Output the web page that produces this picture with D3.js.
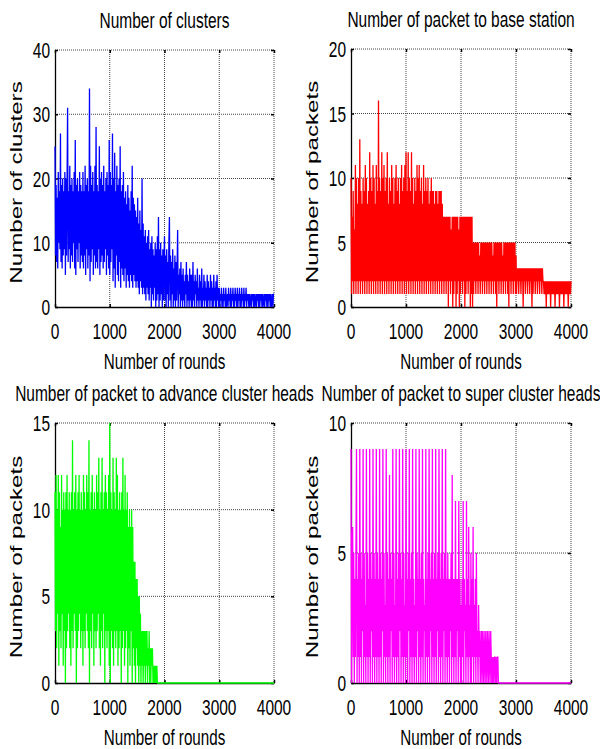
<!DOCTYPE html>
<html lang="en">
<head>
<meta charset="UTF-8"/>
<title>Clusters and packets per round</title>
<script src="https://d3js.org/d3.v7.min.js"></script>
<style>
  body { margin: 0; background: #fff; }
  svg text { font-family: "Liberation Sans", Arial, sans-serif; fill: #000; }
</style>
</head>
<body>
<script>

var w = 600;
var h = 749;

// one sample every 10 rounds, 0..4000 (each row below = 500 rounds)
var step = 10;
var rounds = d3.range(0, 4001, step);
var xTicks = [0, 1000, 2000, 3000, 4000];

// number of clusters
var clusters = [
  25,8,19,7,17,6,21,10,18,9,27,7,19,6,20,8,18,9,21,5,20,8,19,31,7,18,9,22,6,19,8,20,7,18,10,21,6,26,5,19,9,20,7,18,10,21,6,19,8,18,
  7,21,6,18,8,22,5,19,9,20,6,18,8,34,4,22,7,19,9,21,5,18,8,22,6,28,7,19,6,18,9,25,5,20,7,21,8,19,6,22,7,18,9,20,5,21,8,19,6,26,
  5,21,7,19,9,27,4,20,6,24,3,18,8,22,5,19,4,20,7,25,3,18,6,19,5,21,4,17,6,18,3,16,5,19,4,17,3,15,5,18,4,22,3,17,5,16,4,15,3,14,
  4,17,3,13,2,15,4,12,3,20,2,13,3,11,2,12,1,10,3,11,2,12,1,9,3,10,0,11,2,9,1,8,3,10,0,9,1,11,2,14,0,9,1,10,2,8,0,9,1,7,
  11,1,8,0,9,2,7,0,10,14,1,8,0,7,2,9,0,6,1,8,0,7,1,6,12,0,5,2,6,0,7,1,5,0,6,1,4,0,5,2,7,0,5,1,4,0,6,1,5,0,
  5,0,7,1,4,0,5,2,4,0,6,1,3,0,5,1,4,0,6,0,3,1,5,0,4,1,3,0,5,0,4,1,3,0,5,1,4,0,3,0,5,1,3,0,4,0,5,1,3,0,
  3,0,2,1,3,0,2,0,3,1,2,0,3,0,1,2,0,3,1,2,0,3,0,2,1,3,0,2,0,3,1,2,0,3,0,2,1,3,0,2,0,3,1,2,0,3,0,2,1,3,
  0,2,1,2,0,2,0,1,2,0,2,1,2,0,2,0,1,2,0,2,1,2,0,2,0,2,1,2,0,2,0,1,2,0,2,1,2,0,2,0,2,1,2,0,2,0,1,2,0,2,
  2
];

// packets to base station
var packetsBS = [
  10,1,7,2,9,1,6,2,11,1,10,2,8,1,10,2,13,1,9,2,8,1,10,2,9,1,11,2,10,1,8,2,9,1,12,2,10,1,9,2,11,1,10,2,8,1,11,2,9,1,
  16,2,10,1,9,2,12,1,10,2,11,1,9,2,10,1,12,2,8,1,10,2,9,1,11,2,10,1,8,2,10,1,11,2,9,1,10,2,8,1,10,2,11,1,9,2,10,1,11,2,
  12,1,9,2,12,1,10,2,9,1,12,2,10,1,8,2,10,1,9,2,11,1,10,2,11,1,9,2,10,1,8,2,11,1,9,2,10,1,9,2,10,1,8,2,9,1,10,2,9,1,
  9,2,8,1,9,2,9,1,8,2,9,1,9,2,9,1,8,2,7,1,7,2,7,1,7,2,7,0,7,2,7,1,6,2,7,0,7,1,7,2,7,0,7,1,7,2,6,0,7,1,
  7,2,7,1,7,2,7,0,7,1,7,2,7,1,7,2,7,0,7,1,7,0,5,1,5,2,5,1,5,2,5,1,5,2,4,1,5,2,5,1,5,2,5,1,5,2,5,1,5,2,
  5,1,5,2,5,1,5,2,4,1,5,2,5,1,5,0,5,2,5,1,5,2,5,1,5,2,4,1,5,2,5,1,5,2,5,1,5,0,5,2,5,1,5,2,5,1,5,2,5,1,
  4,1,3,2,3,1,3,2,3,1,3,2,3,0,3,2,3,1,3,2,3,1,3,2,3,1,3,2,3,0,3,1,3,2,3,1,3,2,3,1,3,2,3,1,3,2,3,1,3,2,
  2,1,2,1,2,0,2,1,2,1,2,1,2,0,2,1,2,1,2,1,2,0,2,1,2,1,2,1,2,0,2,1,2,1,2,1,2,0,2,1,2,1,2,1,2,0,2,1,2,1,
  2
];

// packets to advance cluster heads
var packetsACH = [
  11,3,12,2,10,4,12,1,11,3,9,2,12,4,10,1,11,3,10,0,11,2,12,3,10,4,11,2,10,1,11,3,14,2,10,4,11,3,12,0,10,2,11,3,12,4,10,2,11,3,
  10,1,12,3,11,2,10,4,12,3,11,2,14,0,10,3,11,2,12,4,10,1,11,3,10,2,12,3,11,4,13,2,10,1,11,3,13,2,10,4,11,0,12,3,11,2,10,3,12,1,
  15,0,11,3,10,2,13,1,11,3,10,2,13,3,12,1,10,2,11,3,10,0,11,2,13,3,10,1,12,2,10,3,11,0,9,2,10,1,9,3,10,0,9,2,7,1,7,0,6,2,
  6,1,5,0,5,1,4,0,3,1,3,0,3,1,3,0,3,1,3,0,2,1,3,0,2,0,2,1,2,0,1,0,1,0,1,0,1,0,0,0,0,0,0,0,0,0,0,0,0,0,
  0,0,0,0,0,0,0,0,0,0,0,0,0,0,0,0,0,0,0,0,0,0,0,0,0,0,0,0,0,0,0,0,0,0,0,0,0,0,0,0,0,0,0,0,0,0,0,0,0,0,
  0,0,0,0,0,0,0,0,0,0,0,0,0,0,0,0,0,0,0,0,0,0,0,0,0,0,0,0,0,0,0,0,0,0,0,0,0,0,0,0,0,0,0,0,0,0,0,0,0,0,
  0,0,0,0,0,0,0,0,0,0,0,0,0,0,0,0,0,0,0,0,0,0,0,0,0,0,0,0,0,0,0,0,0,0,0,0,0,0,0,0,0,0,0,0,0,0,0,0,0,0,
  0,0,0,0,0,0,0,0,0,0,0,0,0,0,0,0,0,0,0,0,0,0,0,0,0,0,0,0,0,0,0,0,0,0,0,0,0,0,0,0,0,0,0,0,0,0,0,0,0,0,
  0
];

// packets to super cluster heads
var packetsSCH = [
  9,0,5,6,1,5,0,4,1,5,9,0,4,1,5,0,9,1,5,0,4,2,9,0,5,1,3,0,9,1,5,0,4,1,9,0,5,2,4,0,9,1,5,0,4,1,9,0,5,1,
  4,0,9,1,5,0,4,2,9,0,5,1,3,0,9,1,5,0,4,1,8,0,5,2,4,0,9,1,5,0,3,1,9,0,4,1,5,0,9,2,5,0,4,1,9,0,5,1,3,0,
  9,1,4,0,5,2,9,0,4,1,5,0,9,1,4,0,3,1,9,0,5,2,4,0,9,1,4,0,5,1,9,0,4,2,3,0,9,1,4,0,5,1,9,0,4,2,5,0,9,1,
  4,0,5,1,9,0,4,2,5,0,9,1,4,0,5,1,9,0,4,2,5,0,9,1,4,0,5,1,4,0,4,2,5,0,8,1,4,0,4,1,7,0,4,2,4,0,7,1,4,0,
  3,0,4,1,7,0,4,2,3,0,7,1,4,0,6,1,3,0,5,0,4,1,6,0,3,1,4,0,5,1,2,0,3,1,2,0,1,2,0,2,1,0,2,1,0,2,1,0,2,1,
  0,2,1,0,2,1,0,1,0,1,0,1,1,0,1,0,1,1,0,0,0,0,0,0,0,0,0,0,0,0,0,0,0,0,0,0,0,0,0,0,0,0,0,0,0,0,0,0,0,0,
  0,0,0,0,0,0,0,0,0,0,0,0,0,0,0,0,0,0,0,0,0,0,0,0,0,0,0,0,0,0,0,0,0,0,0,0,0,0,0,0,0,0,0,0,0,0,0,0,0,0,
  0,0,0,0,0,0,0,0,0,0,0,0,0,0,0,0,0,0,0,0,0,0,0,0,0,0,0,0,0,0,0,0,0,0,0,0,0,0,0,0,0,0,0,0,0,0,0,0,0,0,
  0
];

var clusterTicks = [0, 10, 20, 30, 40];
var bsTicks = [0, 5, 10, 15, 20];
var achTicks = [0, 5, 10, 15];
var schTicks = [0, 5, 10];

var panels = [
  {title: "Number of clusters", ylabel: "Number of clusters", values: clusters, yTicks: clusterTicks,
   color: "#0000ff", left: 55, right: 274, top: 50, bottom: 307},
  {title: "Number of packet to base station", ylabel: "Number of packets", values: packetsBS, yTicks: bsTicks,
   color: "#ff0000", left: 351, right: 571, top: 49, bottom: 307},
  {title: "Number of packet to advance cluster heads", ylabel: "Number of packets", values: packetsACH, yTicks: achTicks,
   color: "#00ff00", left: 55, right: 274, top: 423, bottom: 683},
  {title: "Number of packet to super cluster heads", ylabel: "Number of packets", values: packetsSCH, yTicks: schTicks,
   color: "#ff00ff", left: 351, right: 571, top: 423, bottom: 683}
];

var stretch = 1.42; // the figure is taller than it is wide, text too

var svg = d3.select("body")
            .append("svg")
            .attr("width", w)
            .attr("height", h);

svg.append("rect").attr("width", w).attr("height", h).attr("fill", "#fff");

// text squeezed like the original figure
function label(g, x, y, str, size, anchor) {
    g.append("text")
        .attr("transform", "translate(" + x + "," + y + ") scale(1," + stretch + ")")
        .attr("text-anchor", anchor)
        .style("font-size", size + "px")
        .text(str);
}

panels.forEach(function(p) {
    var xScale = d3.scaleLinear().domain([0, 4000]).range([p.left, p.right]);
    var yScale = d3.scaleLinear().domain([0, d3.max(p.yTicks)]).range([p.bottom, p.top]);

    var g = svg.append("g");

    // dotted grid (top and right edges look the same)
    g.selectAll(".vgrid")
        .data(xTicks.slice(1))
        .enter()
        .append("line")
        .attr("x1", function(d) { return xScale(d); })
        .attr("x2", function(d) { return xScale(d); })
        .attr("y1", p.top)
        .attr("y2", p.bottom)
        .attr("stroke", "#444")
        .attr("stroke-dasharray", "1,1");

    g.selectAll(".hgrid")
        .data(p.yTicks.slice(1))
        .enter()
        .append("line")
        .attr("x1", p.left)
        .attr("x2", p.right)
        .attr("y1", function(d) { return yScale(d); })
        .attr("y2", function(d) { return yScale(d); })
        .attr("stroke", "#444")
        .attr("stroke-dasharray", "1,1");

    // tick marks on all four sides, pointing in
    g.append("g")
        .attr("transform", "translate(0," + p.bottom + ")")
        .call(d3.axisBottom(xScale).tickValues(xTicks).tickSize(-3).tickSizeOuter(0).tickFormat(""));
    g.append("g")
        .attr("transform", "translate(0," + p.top + ")")
        .call(d3.axisTop(xScale).tickValues(xTicks).tickSize(-3).tickSizeOuter(0).tickFormat(""))
        .select(".domain").remove();
    g.append("g")
        .attr("transform", "translate(" + p.left + ",0)")
        .call(d3.axisLeft(yScale).tickValues(p.yTicks).tickSize(-3).tickSizeOuter(0).tickFormat(""));
    g.append("g")
        .attr("transform", "translate(" + p.right + ",0)")
        .call(d3.axisRight(yScale).tickValues(p.yTicks).tickSize(-3).tickSizeOuter(0).tickFormat(""))
        .select(".domain").remove();
    g.selectAll(".domain").attr("stroke", "#000").attr("stroke-width", 1.3);
    g.selectAll(".tick line").attr("stroke", "#000").attr("stroke-width", 1.5);

    // the series
    var line = d3.line()
        .x(function(d, i) { return xScale(rounds[i]); })
        .y(function(d) { return yScale(d); });

    g.append("path")
        .datum(p.values)
        .attr("d", line)
        .attr("fill", "none")
        .attr("stroke", p.color)
        .attr("stroke-width", 1.3)
        .attr("stroke-linejoin", "bevel");

    // tick labels
    xTicks.forEach(function(t) {
        label(g, xScale(t), p.bottom + 32, t, 15.5, "middle");
    });
    p.yTicks.forEach(function(t) {
        label(g, p.left - 5, yScale(t) + 8, t, 15.5, "end");
    });

    // title and x label
    label(g, (p.left + p.right) / 2, p.top - 22, p.title, 15.5, "middle");
    label(g, (p.left + p.right) / 2, p.bottom + 62, "Number of rounds", 15.2, "middle");

    // y label, stretched along its length
    g.append("text")
        .attr("transform", "translate(" + (p.left - 33) + "," + ((p.top + p.bottom) / 2 + 4) + ") rotate(-90) scale(" + stretch + ",1)")
        .attr("text-anchor", "middle")
        .style("font-size", "17px")
        .text(p.ylabel);
});

</script>
</body>
</html>
